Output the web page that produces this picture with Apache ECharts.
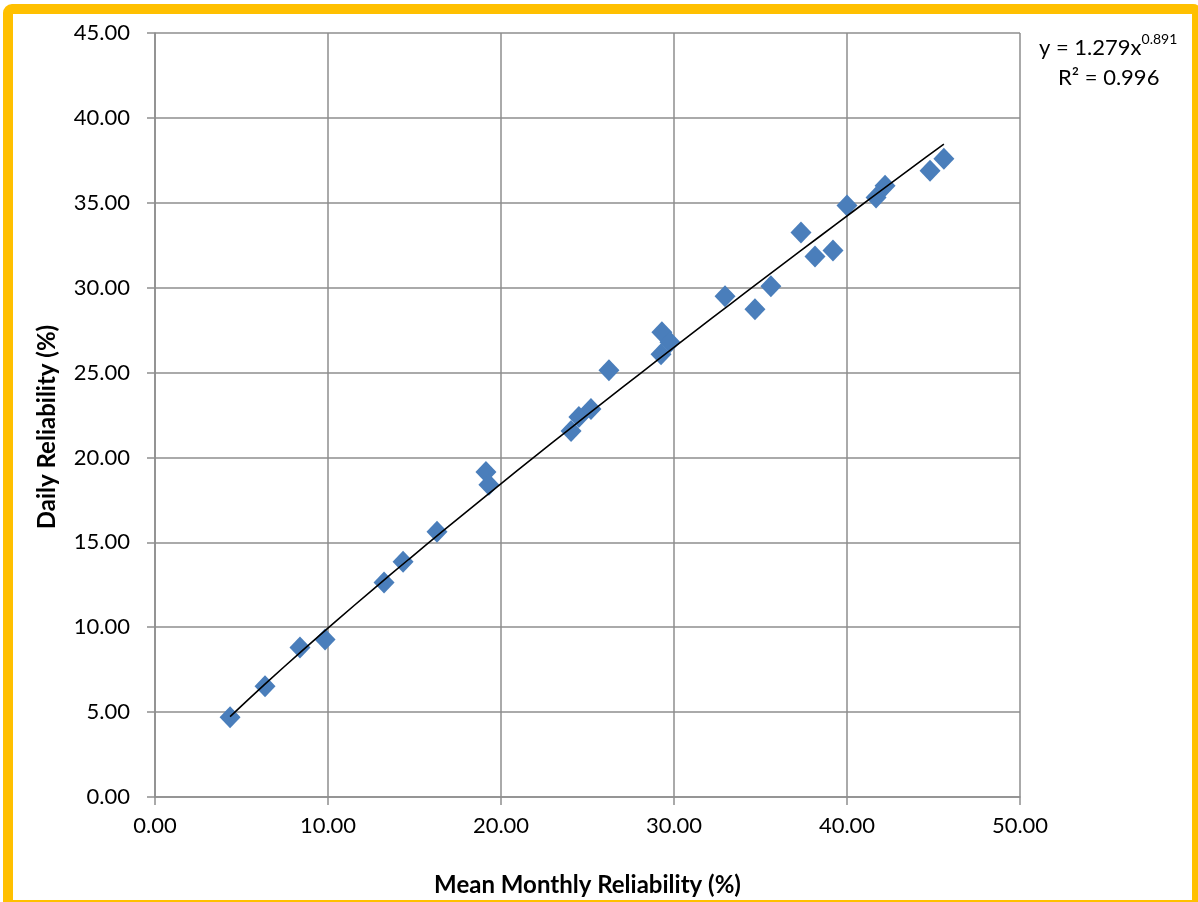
<!DOCTYPE html>
<html>
<head>
<meta charset="utf-8">
<script src="https://cdn.jsdelivr.net/npm/echarts@6/dist/echarts.min.js"></script>
<style>
  html, body { margin: 0; padding: 0; background: #ffffff; overflow: hidden; width: 1198px; height: 902px; }
  #wrap { position: relative; width: 1198px; height: 902px; overflow: hidden; }
  #frame { position: absolute; left: 3px; top: 4px; width: 1199px; height: 906px; box-sizing: border-box;
           border: 10px solid #FFC000; border-radius: 9px; }
  #chart { position: absolute; left: 0; top: 0; width: 1198px; height: 902px; }
</style>
</head>
<body>
<div id="wrap">
<div id="frame"></div>
<div id="chart"></div>
</div>
<script>
// Mean monthly reliability (%) for each point
const monthlyX = [4.34, 6.36, 8.38, 9.83, 13.24, 14.34, 16.3, 19.13, 19.3, 24.05, 24.5, 25.2, 26.24,
                  29.25, 29.3, 29.77, 32.95, 34.68, 35.6, 37.34, 38.15, 39.19, 40.0, 41.68, 42.2, 44.8, 45.6];
// Daily reliability (%) for each point
const dailyY = [4.70, 6.52, 8.81, 9.28, 12.63, 13.86, 15.63, 19.15, 18.39, 21.56, 22.38, 22.85, 25.14,
                26.08, 27.38, 26.79, 29.49, 28.73, 30.08, 33.25, 31.84, 32.19, 34.84, 35.31, 36.01, 36.89, 37.6];
// Power trend line coefficients shown on the chart: y = A * x^B
const trendA = 1.279;
const trendB = 0.891;
const trendLabel = ['y = 1.279x', '0.891', 'R² = 0.996'];
const xTicks = { min: 0, max: 50, interval: 10 };
const yTicks = { min: 0, max: 45, interval: 5 };

const points = monthlyX.map((x, i) => [x, dailyY[i]]);
const xMin = Math.min(...monthlyX), xMax = Math.max(...monthlyX);
const trend = [];
const nSteps = 40;
for (let i = 0; i <= nSteps; i++) {
  const x = xMin + (xMax - xMin) * i / nSteps;
  trend.push([x, trendA * Math.pow(x, trendB)]);
}

const FONT = 'Lato';
const gridColor = '#8E8E8E';
const chart = echarts.init(document.getElementById('chart'), null, { renderer: 'canvas', width: 1198, height: 902 });
chart.setOption({
  animation: false,
  backgroundColor: 'transparent',
  grid: { left: 155, right: 178, top: 33, bottom: 103, containLabel: false },
  xAxis: {
    type: 'value', min: xTicks.min, max: xTicks.max, interval: xTicks.interval,
    name: 'Mean Monthly Reliability (%)', nameLocation: 'middle', nameGap: 76,
    nameTextStyle: { fontFamily: FONT, fontWeight: 'bold', fontSize: 24, color: '#000' },
    axisLine: { show: true, onZero: false, lineStyle: { color: gridColor, width: 1.5 } },
    axisTick: { show: true, length: 8, lineStyle: { color: gridColor, width: 1.5 } },
    axisLabel: { fontFamily: FONT, fontSize: 22, color: '#000', margin: 18,
                 formatter: v => v.toFixed(2) },
    splitLine: { show: true, lineStyle: { color: gridColor, width: 1.5 } }
  },
  yAxis: {
    type: 'value', min: yTicks.min, max: yTicks.max, interval: yTicks.interval,
    name: 'Daily Reliability (%)', nameLocation: 'middle', nameGap: 96, nameRotate: 90,
    nameTextStyle: { fontFamily: FONT, fontWeight: 'bold', fontSize: 24, color: '#000', padding: [0, 24, 0, 0] },
    axisLine: { show: true, onZero: false, lineStyle: { color: gridColor, width: 1.5 } },
    axisTick: { show: true, length: 8, lineStyle: { color: gridColor, width: 1.5 } },
    axisLabel: { fontFamily: FONT, fontSize: 22, color: '#000', margin: 25,
                 formatter: v => v.toFixed(2) },
    splitLine: { show: true, lineStyle: { color: gridColor, width: 1.5 } }
  },
  series: [
    {
      type: 'scatter', data: points, symbol: 'diamond', symbolSize: [21, 22],
      itemStyle: { color: '#4A7EBB', opacity: 1 }, z: 2
    },
    {
      type: 'line', data: trend, showSymbol: false, symbol: 'none', smooth: false,
      lineStyle: { color: '#000000', width: 1.6 }, z: 3
    }
  ],
  graphic: [
    {
      type: 'text', left: 1039, top: 32,
      style: {
        text: '{a|' + trendLabel[0] + '}{b|' + trendLabel[1] + '}',
        rich: {
          a: { fontFamily: FONT, fontSize: 22, fill: '#000', verticalAlign: 'bottom', lineHeight: 27 },
          b: { fontFamily: FONT, fontSize: 14, fill: '#000', verticalAlign: 'top', padding: [0, 0, 10, 0] }
        }
      }
    },
    {
      type: 'text', left: 1058, top: 67,
      style: { text: trendLabel[2], fontFamily: FONT, fontSize: 22, fill: '#000' }
    }
  ]
});
</script>
</body>
</html>
